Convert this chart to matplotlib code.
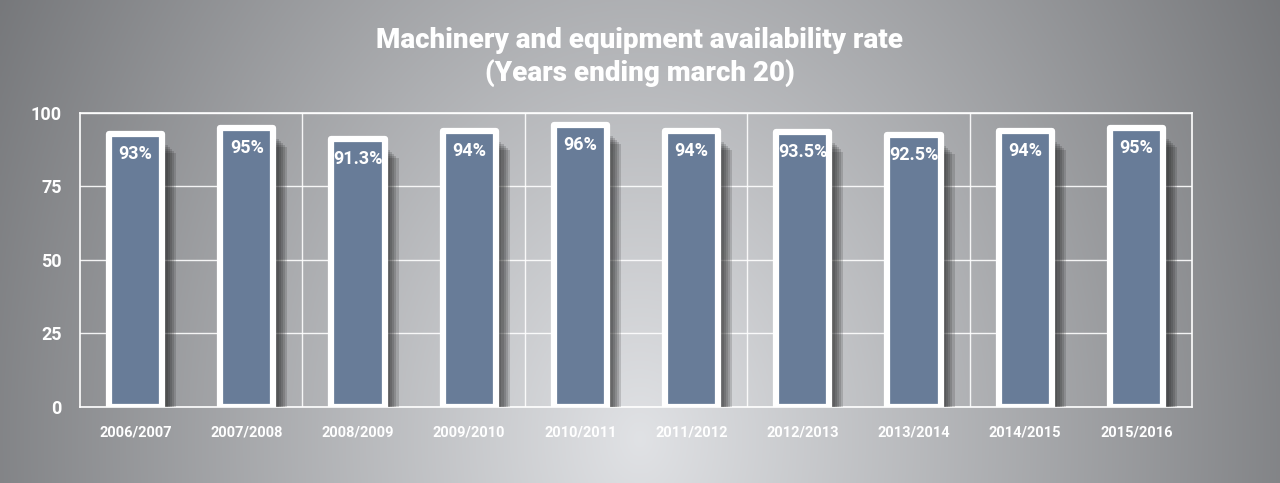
import numpy as np
import matplotlib
matplotlib.use("Agg")
import matplotlib.pyplot as plt
import matplotlib.patheffects as pe

# ==============================
# Data
# ==============================
years = ["2006/2007", "2007/2008", "2008/2009", "2009/2010", "2010/2011",
         "2011/2012", "2012/2013", "2013/2014", "2014/2015", "2015/2016"]
rates = [93, 95, 91.3, 94, 96, 94, 93.5, 92.5, 94, 95]
rate_labels = ["93%", "95%", "91.3%", "94%", "96%", "94%", "93.5%", "92.5%", "94%", "95%"]
y_ticks = [0, 25, 50, 75, 100]

FONT = ["Roboto", "Liberation Sans", "DejaVu Sans"]

fig = plt.figure(figsize=(12.8, 4.83), dpi=100)

# ==============================
# Background: radial grey gradient
# ==============================
bg = fig.add_axes([0, 0, 1, 1], zorder=0)
xx, yy = np.meshgrid(np.linspace(0, 1280, 640), np.linspace(0, 483, 242))
r = np.sqrt(((xx - 640) / 700) ** 2 + ((yy - 440) / 900) ** 2)
v = np.clip(0.88 - 0.40 * r, 0, 1)
img = np.dstack([v, v + 0.006, v + 0.018])
bg.imshow(np.clip(img, 0, 1), extent=[0, 1280, 483, 0], aspect="auto")
bg.set_axis_off()

# ==============================
# Main chart
# ==============================
ax = fig.add_axes([0.0625, 0.1574, 0.86875, 0.6087], zorder=1)
ax.set_facecolor("none")
x = np.arange(len(years))

# soft drop shadow built from several offset layers
shadow = [pe.SimplePatchShadow(offset=(4 + 1.5 * i, -8 - 1.5 * i), shadow_rgbFace="#1e1e1e", alpha=0.17)
          for i in range(5)]
bars = ax.bar(x, rates, width=0.48, color="#687c98", edgecolor="white", linewidth=4.5,
              joinstyle="round", zorder=3)
for b in bars:
    b.set_path_effects(shadow + [pe.Normal()])

for xi, val, lab in zip(x, rates, rate_labels):
    ax.annotate(lab, (xi, val), xytext=(0, -8), textcoords="offset points",
                ha="center", va="top", color="white", fontsize=13,
                family=FONT, fontweight="bold", zorder=5)

ax.set_xlim(-0.5, len(years) - 0.5)
ax.set_ylim(0, 100)
ax.set_yticks(y_ticks)
ax.set_xticks(x)
ax.set_xticklabels(years)
ax.tick_params(length=0, colors="white")
ax.tick_params(axis="x", labelsize=10.5, pad=13)
ax.tick_params(axis="y", labelsize=13, pad=13)
for t in ax.get_xticklabels() + ax.get_yticklabels():
    t.set_family(FONT)
    t.set_fontweight("bold")

ax.grid(axis="y", color="white", linewidth=1, alpha=0.9, zorder=1)
for xv in [1.5, 3.5, 5.5, 7.5]:
    ax.axvline(xv, color="white", linewidth=1, alpha=0.9, zorder=1)
for s in ax.spines.values():
    s.set_color("white")
    s.set_linewidth(1.2)

fig.text(0.5, 0.882, "Machinery and equipment availability rate\n(Years ending march 20)",
         ha="center", va="center", color="white", fontsize=20, family=FONT,
         fontweight="heavy", linespacing=1.25)

fig.savefig("out.png", dpi=100)
plt.close(fig)
